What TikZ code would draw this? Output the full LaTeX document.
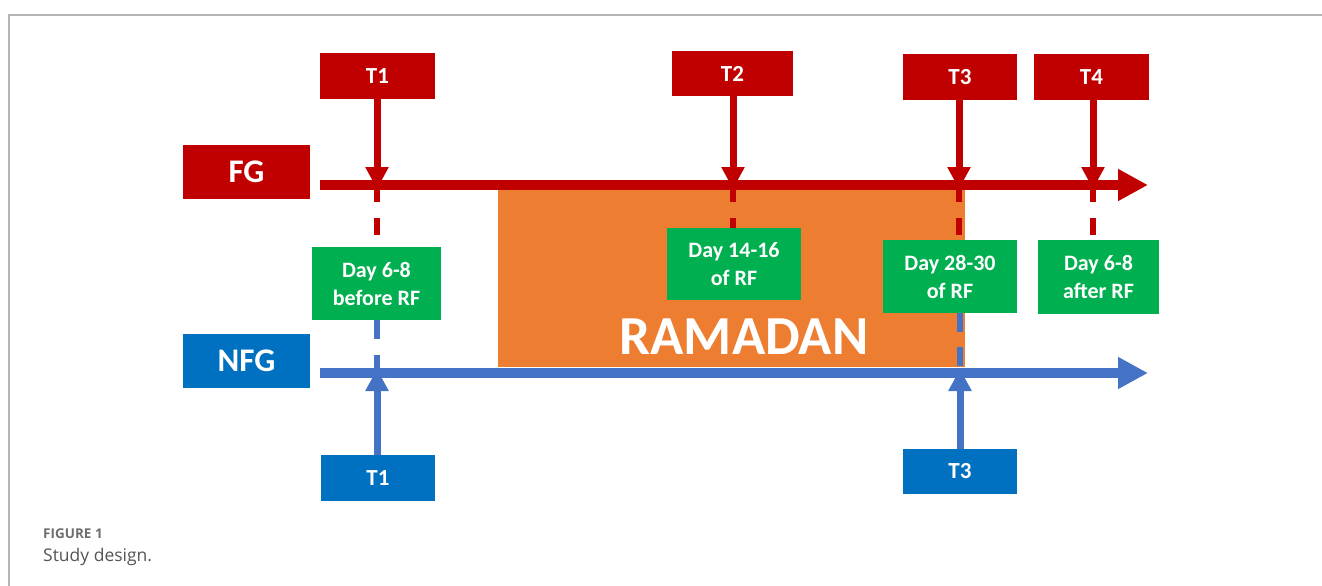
\documentclass[tikz,border=0pt]{standalone}
\usepackage{fontspec}
\setmainfont{Carlito}
\newfontfamily\capfont{Open Sans}
\usetikzlibrary{arrows.meta,backgrounds}
\definecolor{cred}{HTML}{C00000}
\definecolor{cblue}{HTML}{0070C0}
\definecolor{lblue}{HTML}{4472C4}
\definecolor{cgreen}{HTML}{00B050}
\definecolor{corange}{HTML}{ED7D31}
\definecolor{framegray}{HTML}{B4B4B4}
\definecolor{capgray}{HTML}{6E6E6E}
\definecolor{textgray}{HTML}{555555}
\begin{document}
\begin{tikzpicture}[x=1pt,y=-1pt,
  box/.style={inner sep=0pt, text=white, font=\bfseries\fontsize{23}{27}\selectfont},
  redbox/.style={box, fill=cred},
  bluebox/.style={box, fill=cblue},
  grpbox/.style={minimum width=127pt, minimum height=54pt, font=\bfseries\fontsize{33}{36}\selectfont},
  tbox/.style={minimum width=115pt, minimum height=46pt},
  greenbox/.style={box, fill=cgreen, align=center, font=\bfseries\fontsize{22}{28}\selectfont},
  timeline/.style={line width=9.5pt, -{Triangle[length=30pt,width=30pt]}},
  marker/.style={line width=7pt, -{Triangle[length=22pt,width=22pt]}},
  dashc/.style={line width=6pt, dash pattern=on 17pt off 16pt},
]
\useasboundingbox (0,0) rectangle (1322,586);
% frame
\draw[framegray, line width=1.5pt] (1322,15) -- (9,15) -- (9,586);

% group labels
\node[redbox, grpbox] (FG) at (246.5,172) {FG};
\node[bluebox, grpbox] (NFG) at (246.5,360.5) {NFG};

% time point boxes
\node[redbox, tbox] (T1r) at (377.5,76) {T1};
\node[redbox, tbox, minimum width=121pt, minimum height=45pt] (T2r) at (732.5,73.5) {T2};
\node[redbox, tbox, minimum width=114pt] (T3r) at (960,77) {T3};
\node[redbox, tbox] (T4r) at (1091.5,77) {T4};
\node[bluebox, tbox, minimum width=114pt] (T1b) at (378,478) {T1};
\node[bluebox, tbox, minimum width=114pt, minimum height=45pt] (T3b) at (960,471.5) {T3};

% coordinates on the time lines
\coordinate (fgs) at (320,185);
\coordinate (fge) at (1148,185);
\coordinate (ngs) at (320,373);
\coordinate (nge) at (1148,373);
\coordinate (r1) at (377,185);
\coordinate (r2) at (733,185);
\coordinate (r3) at (959,185);
\coordinate (r4) at (1093,185);
\coordinate (b1) at (377,373);
\coordinate (b3) at (960,373);

% green day boxes
\node[greenbox, minimum width=129pt, minimum height=73pt] (G1) at (376.5,283.5) {Day 6-8\\before RF};
\node[greenbox, minimum width=134pt, minimum height=72pt] (G2) at (734,264) {Day 14-16\\of RF};
\node[greenbox, minimum width=134pt, minimum height=73pt] (G3) at (950,276.5) {Day 28-30\\of RF};
\node[greenbox, minimum width=121pt, minimum height=74pt] (G4) at (1098.5,277) {Day 6-8\\after RF};

% Ramadan period and dashed connectors, behind everything else
\begin{scope}[on background layer]
\fill[corange] (498,190) rectangle (965,367);
\draw[dashc, cred] (r1) -- (G1.north -| r1);
\draw[dashc, cred] (r2) -- (G2.north -| r2);
\draw[dashc, cred] (r3) -- (G3.north -| r3);
\draw[dashc, cred] (r4) -- (G4.north -| r4);
\draw[dashc, lblue, dash pattern=on 19pt off 16pt] (G1.south -| b1) -- (b1);
\draw[dashc, lblue, dash pattern=on 19pt off 15pt] (G3.south -| b3) -- (b3);
\end{scope}
\node[anchor=base, text=white, font=\bfseries\fontsize{55}{60}\selectfont] (ram) at (744,354) {RAMADAN};

% time lines
\draw[timeline, cred] (fgs) -- (fge);
\draw[timeline, lblue] (ngs) -- (nge);

% markers
\draw[marker, cred] (T1r.south -| r1) -- ([yshift=-4pt]r1);
\draw[marker, cred] (T2r.south -| r2) -- ([yshift=-4pt]r2);
\draw[marker, cred] (T3r.south -| r3) -- ([yshift=-4pt]r3);
\draw[marker, cred] (T4r.south -| r4) -- ([yshift=-4pt]r4);
\draw[marker, lblue] (T1b.north -| b1) -- ([yshift=4pt]b1);
\draw[marker, lblue] (T3b.north -| b3) -- ([yshift=4pt]b3);

% caption
\node[anchor=base west, inner sep=0pt, text=capgray, font=\capfont\bfseries\fontsize{13.5}{16}\selectfont] (figlab) at (43,538) {FIGURE 1};
\node[anchor=base west, inner sep=0pt, text=textgray, font=\capfont\fontsize{17.5}{21}\selectfont] (figcap) at (43,561) {Study design.};
\end{tikzpicture}
\end{document}
